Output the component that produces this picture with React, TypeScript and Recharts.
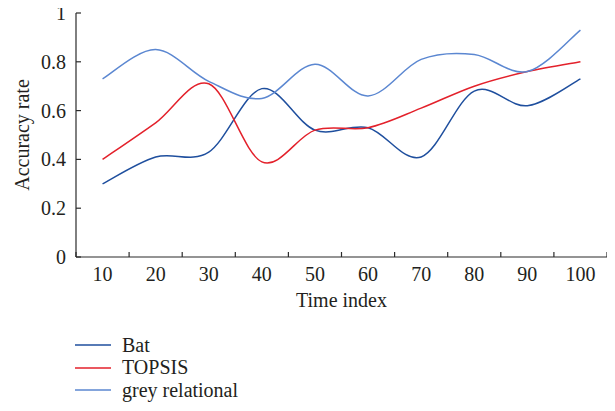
import React from 'react'
import { LineChart, Line, XAxis, YAxis, Legend } from 'recharts'

const categories = [10, 20, 30, 40, 50, 60, 70, 80, 90, 100]
const bat = [0.3, 0.41, 0.43, 0.69, 0.52, 0.53, 0.41, 0.68, 0.62, 0.73]
const topsis = [0.4, 0.55, 0.71, 0.39, 0.52, 0.53, 0.61, 0.7, 0.76, 0.8]
const grey = [0.73, 0.85, 0.72, 0.65, 0.79, 0.66, 0.81, 0.83, 0.76, 0.93]
const yTicks = [0, 0.2, 0.4, 0.6, 0.8, 1]

const series = [
  { key: 'bat', name: 'Bat', color: '#1f4f9e' },
  { key: 'topsis', name: 'TOPSIS', color: '#e3212b' },
  { key: 'grey', name: 'grey relational', color: '#5b87d1' },
]

const data = categories.map((t, i) => ({
  t,
  bat: bat[i],
  topsis: topsis[i],
  grey: grey[i],
}))

const AXIS = '#2b2b2b'
const FONT = '"Liberation Serif", "Times New Roman", serif'
const PLOT_W = 531
const BAND = PLOT_W / categories.length

// Catmull-Rom style smoothing (spreadsheet "smoothed line")
const smoothCurve = (context: any) => {
  let pts: number[][] = []
  return {
    areaStart() {},
    areaEnd() {},
    lineStart() {
      pts = []
    },
    point(x: number, y: number) {
      pts.push([+x, +y])
    },
    lineEnd() {
      const n = pts.length
      if (!n) return
      context.moveTo(pts[0][0], pts[0][1])
      for (let i = 0; i < n - 1; i++) {
        const p0 = pts[i - 1] || pts[i]
        const p1 = pts[i]
        const p2 = pts[i + 1]
        const p3 = pts[i + 2] || p2
        context.bezierCurveTo(
          p1[0] + (p2[0] - p0[0]) / 6,
          p1[1] + (p2[1] - p0[1]) / 6,
          p2[0] - (p3[0] - p1[0]) / 6,
          p2[1] - (p3[1] - p1[1]) / 6,
          p2[0],
          p2[1],
        )
      }
    },
  }
}

// x ticks sit on band edges, labels in the band centre
const XTick = (props: any) => {
  const { x, y, payload, index } = props
  const left = x - BAND / 2
  return (
    <g>
      <line x1={left} y1={y} x2={left} y2={y - 5} stroke={AXIS} strokeWidth={1.2} />
      {index === categories.length - 1 && (
        <line x1={x + BAND / 2} y1={y} x2={x + BAND / 2} y2={y - 5} stroke={AXIS} strokeWidth={1.2} />
      )}
      <text x={x} y={y + 24} textAnchor="middle" fill="#231f20" fontSize={20} fontFamily={FONT}>
        {payload.value}
      </text>
    </g>
  )
}

const YTick = (props: any) => {
  const { x, y, payload } = props
  return (
    <g>
      <line x1={x} y1={y} x2={x + 5} y2={y} stroke={AXIS} strokeWidth={1.2} />
      <text x={x - 10} y={y} dy="0.35em" textAnchor="end" fill="#231f20" fontSize={20} fontFamily={FONT}>
        {String(payload.value)}
      </text>
    </g>
  )
}

const renderLegend = () => (
  <div style={{ height: 91, paddingTop: 22, boxSizing: 'border-box', fontFamily: FONT, fontSize: 20, color: '#231f20' }}>
    {series.map((s) => (
      <div key={s.key} style={{ display: 'flex', alignItems: 'center', height: 22.5, marginLeft: 75 }}>
        <svg width={36} height={4} style={{ marginRight: 11 }}>
          <line x1={0} y1={2} x2={36} y2={2} stroke={s.color} strokeWidth={1.5} />
        </svg>
        <span>{s.name}</span>
      </div>
    ))}
  </div>
)

export default function App() {
  return (
    <div style={{ fontFamily: FONT, margin: '-8px 0 0 -8px' }}>
      <LineChart
        width={615}
        height={403}
        data={data}
        margin={{ top: 13, right: 8, left: 0, bottom: 0 }}
      >
        <XAxis
          dataKey="t"
          height={55}
          interval={0}
          padding={{ left: BAND / 2, right: BAND / 2 }}
          tickLine={false}
          tickSize={0}
          tickMargin={0}
          tick={<XTick />}
          axisLine={{ stroke: AXIS, strokeWidth: 1.2 }}
          label={{ value: 'Time index', position: 'insideBottom', offset: 5, fontSize: 20, fill: '#231f20', fontFamily: FONT }}
        />
        <YAxis
          width={76}
          domain={[0, 1]}
          ticks={yTicks}
          interval={0}
          tickLine={false}
          tickSize={0}
          tickMargin={0}
          tick={<YTick />}
          axisLine={{ stroke: AXIS, strokeWidth: 1.2 }}
          label={{
            value: 'Accuracy rate',
            angle: -90,
            position: 'insideLeft',
            offset: 22,
            fontSize: 20,
            fill: '#231f20',
            fontFamily: FONT,
            style: { textAnchor: 'middle' },
          }}
        />
        <Legend verticalAlign="bottom" align="left" content={renderLegend} wrapperStyle={{ left: 0 }} />
        {series.map((s) => (
          <Line
            key={s.key}
            type={smoothCurve as any}
            dataKey={s.key}
            name={s.name}
            stroke={s.color}
            strokeWidth={1.5}
            dot={false}
            isAnimationActive={false}
          />
        ))}
      </LineChart>
    </div>
  )
}
